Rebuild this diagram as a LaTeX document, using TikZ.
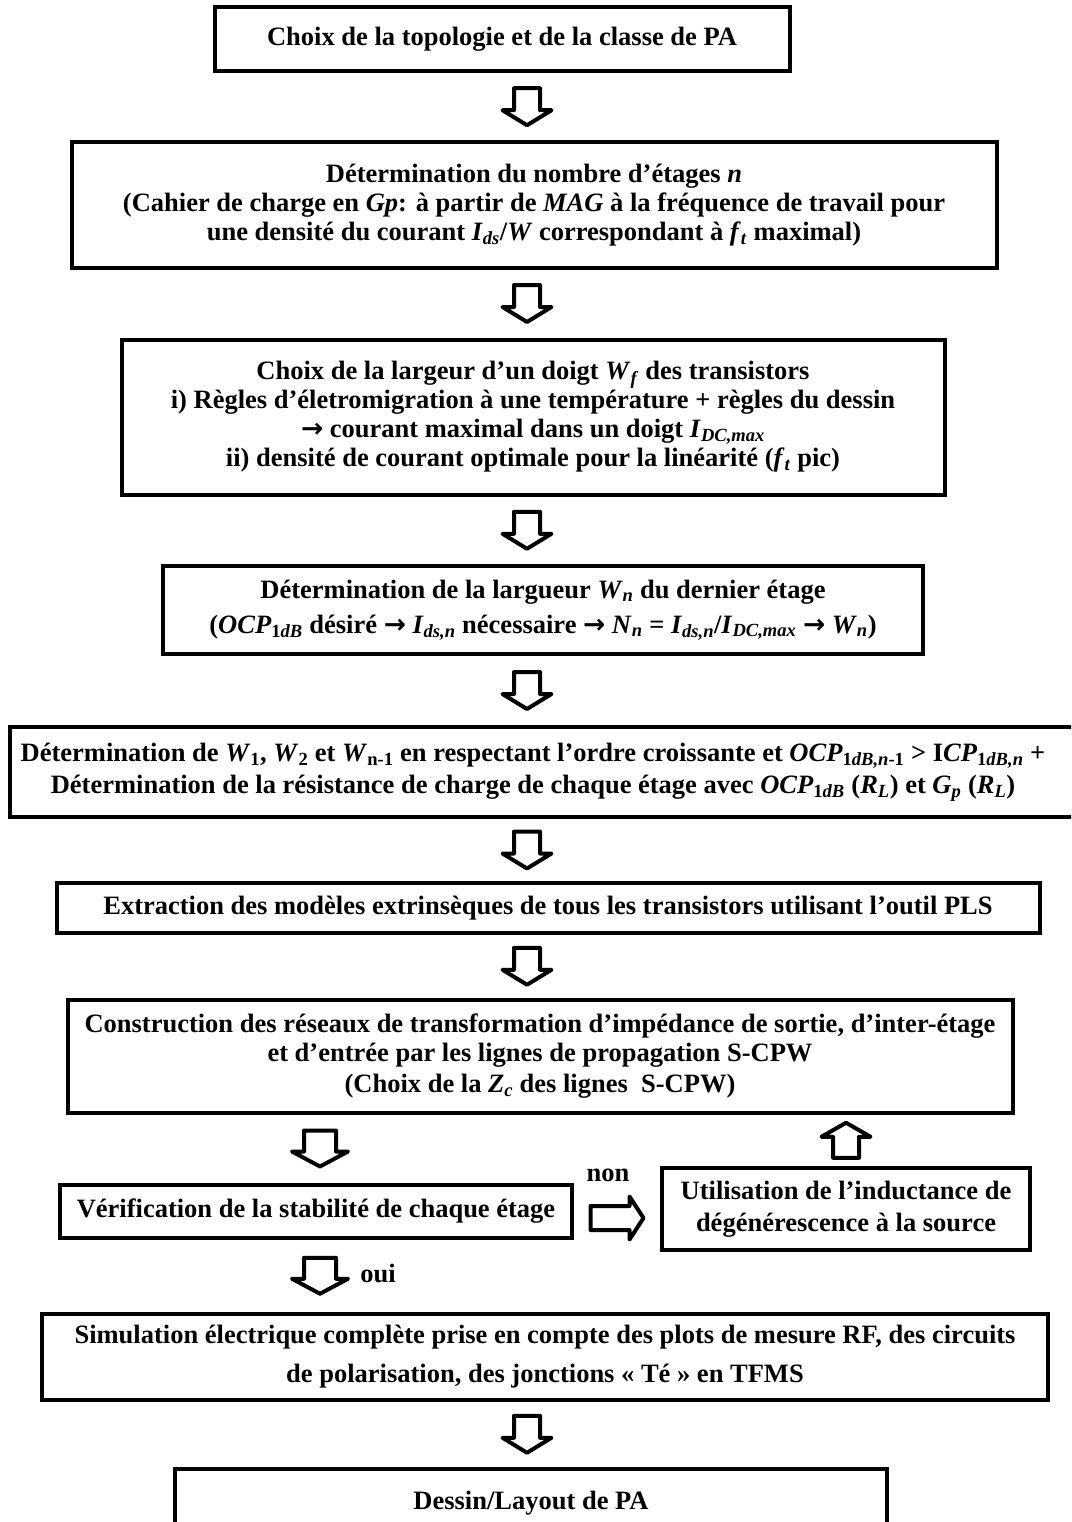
\documentclass[tikz,border=0pt]{standalone}
\usepackage{fontspec}
\setmainfont{Liberation Serif}
\newfontfamily\arrowfont{DejaVu Sans}
\usetikzlibrary{calc}

\newcommand{\sub}[1]{\textsubscript{#1}}
\newcommand{\ra}{{\arrowfont\bfseries →}}

\tikzset{
  box/.style={draw, line width=4pt, align=center, inner sep=0pt,
    font=\bfseries\fontsize{26.5}{29}\selectfont},
  lbl/.style={font=\bfseries\fontsize{26.5}{29}\selectfont, inner sep=0pt},
  pics/blockarrow/.style n args={4}{code={
    \draw[line width=4pt, line join=round, fill=white]
      ({-#2/2},{-#1/2}) -- ({#2/2},{-#1/2}) -- ({#2/2},{#1/2-#4})
      -- ({#3/2},{#1/2-#4}) -- (0,{#1/2}) -- ({-#3/2},{#1/2-#4})
      -- ({-#2/2},{#1/2-#4}) -- cycle;
  }},
}

\begin{document}
\begin{tikzpicture}[x=1pt, y=-1pt]
  \clip (0,0) rectangle (1071,1522);
  \fill[white] (0,0) rectangle (1071,1522);

  % Draw main column of steps
  \node[box, minimum width=575pt, minimum height=64pt] (topo) at (502,39)
    {Choix de la topologie et de la classe de PA};
  \node[box, minimum width=925pt, minimum height=125pt] (etages) at (534,205)
    {Détermination du nombre d’étages \textit{n}\\
     (Cahier de charge en \textit{Gp}: à partir de \textit{MAG} à la fréquence de travail pour\\
     une densité du courant \textit{I}\sub{\textit{ds}}/\textit{W} correspondant à \textit{f}\sub{\textit{t}} maximal)};
  \node[box, minimum width=823pt, minimum height=155pt] (doigt) at (533,417)
    {Choix de la largeur d’un doigt \textit{W}\sub{\textit{f}} des transistors\\
     i) Règles d’életromigration à une température + règles du dessin\\
     \ra{} courant maximal dans un doigt \textit{I}\sub{\textit{DC,max}}\\
     ii) densité de courant optimale pour la linéarité (\textit{f}\sub{\textit{t}} pic)};
  \node[box, minimum width=760pt, minimum height=88pt] (dernier) at (543,610)
    {Détermination de la largueur \textit{W}\sub{\textit{n}} du dernier étage\\[6pt]
     (\textit{OCP}\sub{1\textit{dB}} désiré \ra{} \textit{I}\sub{\textit{ds,n}} nécessaire
     \ra{} \textit{N}\sub{\textit{n}} = \textit{I}\sub{\textit{ds,n}}/\textit{I}\sub{\textit{DC,max}} \ra{} \textit{W}\sub{\textit{n}})};
  \node[box, minimum width=1080pt, minimum height=90pt] (largeurs) at (550,772)
    {\hspace*{-34pt}Détermination de \textit{W}\sub{1}, \textit{W}\sub{2} et \textit{W}\sub{n-1} en respectant l’ordre croissante et
     \textit{OCP}\sub{1\textit{dB,n}-1} > I\textit{CP}\sub{1\textit{dB,n}} +\\[3pt]
     \hspace*{-34pt}Détermination de la résistance de charge de chaque étage avec
     \textit{OCP}\sub{1\textit{dB}} (\textit{R}\sub{\textit{L}}) et \textit{G}\sub{\textit{p}} (\textit{R}\sub{\textit{L}})};
  \node[box, minimum width=983pt, minimum height=50pt] (extraction) at (548,908)
    {Extraction des modèles extrinsèques de tous les transistors utilisant l’outil PLS};
  \node[box, minimum width=945pt, minimum height=113pt] (reseaux) at (540,1056)
    {Construction des réseaux de transformation d’impédance de sortie, d’inter-étage\\
     et d’entrée par les lignes de propagation S-CPW\\[2pt]
     (Choix de la \textit{Z}\sub{\textit{c}} des lignes~~S-CPW)};

  % Draw stability loop
  \node[box, minimum width=512pt, minimum height=53pt] (stabilite) at (316,1211)
    {Vérification de la stabilité de chaque étage};
  \node[box, minimum width=368pt, minimum height=82pt] (inductance) at (846,1209)
    {Utilisation de l’inductance de\\[3pt] dégénérescence à la source};

  \node[box, minimum width=1006pt, minimum height=86pt] (simulation) at (545,1357)
    {Simulation électrique complète prise en compte des plots de mesure RF, des circuits\\[10pt]
     de polarisation, des jonctions « Té » en TFMS};
  \node[box, minimum width=712pt, minimum height=91pt] (layout) at (531,1514)
    {\raisebox{28pt}{Dessin/Layout de PA}};

  % Arrow positions
  \coordinate (axis) at (527,0);
  \coordinate (laxis) at (320,0);
  \coordinate (m1) at ($(topo.south)!.5!(etages.north)$);
  \coordinate (m2) at ($(etages.south)!.5!(doigt.north)$);
  \coordinate (m3) at ($(doigt.south)!.5!(dernier.north)$);
  \coordinate (m4) at ($(dernier.south)!.5!(largeurs.north)$);
  \coordinate (m5) at ($(largeurs.south)!.5!(extraction.north)$);
  \coordinate (m6) at ($(extraction.south)!.5!(reseaux.north)$);
  \coordinate (m7) at ($(reseaux.south)!.5!(stabilite.north)$);
  \coordinate (m8) at ($(stabilite.south)!.5!(simulation.north)$);
  \coordinate (m9) at ($(inductance.north)!.5!(reseaux.south)$);
  \coordinate (m10) at ($(stabilite.east)!.5!(inductance.west) + (0,8)$);
  \coordinate (m11) at ($(simulation.south)!.5!(layout.north)$);

  % Draw block arrows
  \foreach \m in {m1,m2,m3,m4,m5,m6,m11}
    \pic at (\m -| axis) {blockarrow={37}{26}{49}{15}};
  \foreach \m in {m7,m8}
    \pic at (\m -| laxis) {blockarrow={36}{32}{56}{15}};
  \pic[rotate=180] at (m9 -| inductance.north) {blockarrow={35}{26}{49}{14}};
  \pic[rotate=90] at (m10) {blockarrow={53}{24}{43}{14}};

  % Draw branch labels
  \node[lbl] (non) at (608,1175) {non};
  \node[lbl] (oui) at (378,1273) {oui};
\end{tikzpicture}
\end{document}
